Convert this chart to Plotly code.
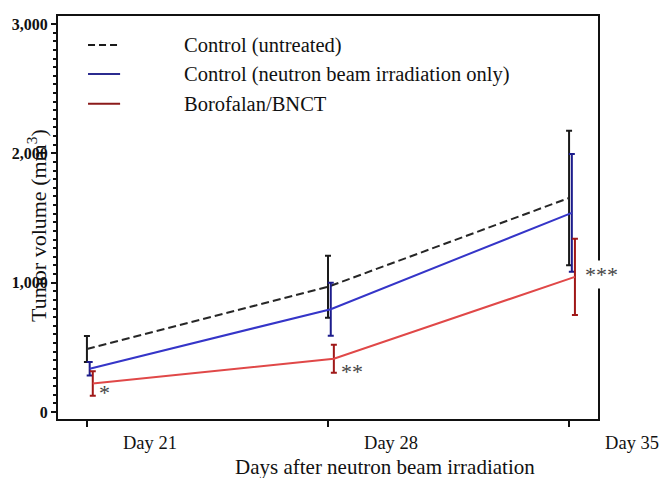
import plotly.graph_objects as go

days = [21, 28, 35]
day_labels = ["Day 21", "Day 28", "Day 35"]
series_names = ["Control (untreated)", "Control (neutron beam irradiation only)", "Borofalan/BNCT"]
ctrl_untreated = [487, 968, 1655]
ctrl_untreated_err = [100, 240, 520]
ctrl_neutron = [335, 795, 1540]
ctrl_neutron_err = [52, 205, 455]
bnct = [220, 412, 1045]
bnct_err = [95, 108, 295]
sig_labels = ["*", "**", "***"]
sig_x = [21.52, 28.70, 35.93]
sig_y = [150, 317, 1067]
y_ticks = [0, 1000, 2000, 3000]

SERIF = "Liberation Serif"
X_RANGE = [20.16, 35.84]
offsets = [0.0, 0.08, 0.17]
line_styles = [
    dict(color="#262626", width=2, dash="8px,4px"),
    dict(color="#3535c8", width=2),
    dict(color="#e04848", width=2),
]
err_colors = ["#1a1a1a", "#1c1c8c", "#a01818"]
legend_colors = ["#1a1a1a", "#2b2b8f", "#8b1a1a"]

fig = go.Figure()
for name, vals, errs, off, ls, ec in zip(
        series_names,
        [ctrl_untreated, ctrl_neutron, bnct],
        [ctrl_untreated_err, ctrl_neutron_err, bnct_err],
        offsets, line_styles, err_colors):
    fig.add_trace(go.Scatter(
        x=[d + off for d in days], y=vals, name=name, mode="lines",
        line=ls,
        error_y=dict(type="data", array=errs, visible=True, color=ec, thickness=2, width=3),
        showlegend=False,
    ))

# significance marks (x converted to paper so marks beyond the axis still show)
for t, x, y in zip(sig_labels, sig_x, sig_y):
    fig.add_annotation(x=(x - X_RANGE[0]) / (X_RANGE[1] - X_RANGE[0]), y=y, xref="paper", yref="y",
                       text=t, showarrow=False,
                       font=dict(family=SERIF, size=22, color="#444"),
                       bgcolor="white" if t == "***" else "rgba(0,0,0,0)",
                       xanchor="center", yanchor="middle")

# manual legend
leg_y = [0.928, 0.856, 0.782]
for name, yy, ls, lc in zip(series_names, leg_y, line_styles, legend_colors):
    fig.add_shape(type="line", xref="paper", yref="paper", x0=0.0556, x1=0.115, y0=yy, y1=yy,
                  line=dict(color=lc, width=2, dash="7px,4px" if "dash" in ls else "solid"))
    fig.add_annotation(x=0.2296, y=yy, xref="paper", yref="paper", text=name, showarrow=False,
                       xanchor="left", yanchor="middle",
                       font=dict(family=SERIF, size=20.5, color="#111"))

# axis titles
fig.add_annotation(x=-0.04, y=0.48, xref="paper", yref="paper", text="Tumor volume (mm<sup>3</sup>)",
                   textangle=-90, showarrow=False, xanchor="center", yanchor="middle",
                   font=dict(family=SERIF, size=22, color="#111"))
fig.add_annotation(x=0.606, y=-0.119, xref="paper", yref="paper", text="Days after neutron beam irradiation",
                   showarrow=False, xanchor="center", yanchor="middle",
                   font=dict(family=SERIF, size=21, color="#111"))

fig.update_layout(
    width=659, height=478,
    margin=dict(l=58, r=61, t=16, b=59),
    paper_bgcolor="white", plot_bgcolor="white",
    font=dict(family=SERIF),
    xaxis=dict(range=X_RANGE, tickvals=days, ticktext=day_labels, automargin=False,
               showline=True, linecolor="#111", linewidth=2, mirror=True,
               ticks="outside", ticklen=6, tickwidth=2, tickcolor="#111",
               showgrid=False, zeroline=False,
               ticklabelshift=63, ticklabelstandoff=0, ticklabeloverflow="allow",
               tickfont=dict(family=SERIF, size=18.5, color="#111")),
    yaxis=dict(range=[-54, 3062], tickvals=y_ticks, tickformat=",", automargin=False,
               showline=True, linecolor="#111", linewidth=2, mirror=True,
               ticks="outside", ticklen=5, tickwidth=2, tickcolor="#111",
               showgrid=False, zeroline=False,
               minor=dict(dtick=1000 / 15, ticks="outside", ticklen=3, tickwidth=1.5, tickcolor="#111", showgrid=False),
               tickfont=dict(family=SERIF, size=16, color="#111", weight="bold")),
)

fig.write_html("out.html")
